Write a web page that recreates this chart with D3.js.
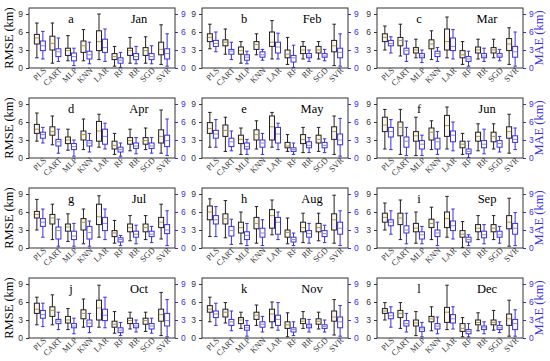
<!DOCTYPE html>
<html>
<head>
<meta charset="utf-8">
<script src="https://cdn.jsdelivr.net/npm/d3@7"></script>
<style>
  body { margin: 0; background: #fff; }
  svg { display: block; }
</style>
</head>
<body>
<svg id="chart"></svg>
<script>
const models = ["PLS", "CART", "MLP", "KNN", "LAR", "RF", "RR", "SGD", "SVR"];
const months = ["Jan", "Feb", "Mar", "Apr", "May", "Jun", "Jul", "Aug", "Sep", "Oct", "Nov", "Dec"];
const letters = ["a", "b", "c", "d", "e", "f", "g", "h", "i", "j", "k", "l"];
const yTicks = [0, 3, 6, 9];

// each box: [low whisker, q1, median, q3, high whisker]
const rmseJan = [[1.7,4.0,5.0,5.6,7.5],[0.8,3.0,4.1,5.3,7.5],[1.2,2.1,2.9,3.3,5.4],[1.2,2.6,3.7,4.5,6.4],[1.4,2.9,4.4,6.2,9.0],[0.3,1.4,1.9,2.4,3.6],[0.8,2.1,2.9,3.3,5.1],[0.8,2.1,2.9,3.4,5.2],[0.6,2.2,3.1,4.3,7.2]];
const maeJan  = [[1.5,2.9,3.7,4.5,6.1],[1.1,1.9,2.7,3.2,5.0],[0.4,1.2,1.9,2.5,3.3],[0.7,1.5,2.2,2.8,4.3],[1.1,2.6,3.4,4.8,6.5],[0.1,0.8,1.3,1.7,2.6],[0.7,1.4,1.9,2.4,3.6],[0.7,1.4,1.9,2.4,3.7],[0.3,1.5,2.4,3.2,5.7]];
const rmseFeb = [[3.2,4.4,5.1,5.7,7.3],[2.3,3.7,4.3,4.7,6.5],[0.8,2.3,2.9,3.5,4.4],[2.2,3.1,3.9,4.4,5.7],[1.5,3.6,4.3,6.0,7.9],[0.6,1.7,2.3,3.0,5.1],[1.5,2.4,3.0,3.6,4.4],[1.5,2.5,3.0,3.6,4.4],[0.4,2.7,3.7,4.6,7.3]];
const maeFeb  = [[2.7,3.6,4.1,4.6,6.0],[1.4,2.3,2.8,3.1,4.3],[0.7,1.3,1.8,2.2,2.8],[1.3,1.8,2.2,2.7,3.1],[1.5,2.5,3.5,4.3,5.8],[0.1,1.0,1.7,2.1,3.8],[1.1,1.7,2.0,2.4,3.0],[1.2,1.8,2.0,2.4,3.1],[0.3,1.7,2.6,3.3,5.7]];
const rmseMar = [[3.0,4.4,5.1,5.7,7.0],[2.0,3.7,4.6,5.1,7.3],[1.7,2.5,3.0,3.4,4.8],[1.4,3.2,4.0,4.7,6.2],[1.7,3.0,4.4,6.5,8.5],[0.6,1.7,2.2,2.9,4.4],[1.5,2.5,3.0,3.5,4.8],[1.7,2.5,3.0,3.4,4.8],[0.6,2.9,4.0,4.9,6.7]];
const maeMar  = [[2.5,3.7,4.1,4.6,5.2],[1.1,2.3,2.9,3.3,4.5],[0.9,1.7,2.0,2.4,3.0],[1.1,1.9,2.4,2.8,3.4],[1.5,2.9,3.6,5.0,6.4],[0.3,1.1,1.5,1.9,2.8],[1.1,1.7,2.0,2.4,3.3],[1.2,1.8,2.0,2.4,3.1],[0.3,1.8,2.7,3.6,6.0]];
const rmseApr = [[2.8,4.1,4.8,5.6,7.5],[2.2,3.8,4.4,5.2,7.0],[1.3,2.4,3.0,3.5,4.8],[1.4,3.0,3.9,4.5,6.5],[1.8,2.8,4.5,6.1,7.3],[0.6,1.5,2.1,2.8,4.1],[1.2,2.3,2.9,3.4,4.8],[1.4,2.3,2.9,3.4,5.0],[0.8,2.5,3.6,4.7,8.0]];
const maeApr  = [[2.5,3.3,3.9,4.3,5.1],[0.8,2.0,2.7,3.1,4.8],[0.3,1.4,1.9,2.4,3.0],[1.0,2.0,2.5,2.9,4.1],[1.5,2.3,3.6,4.8,5.8],[0.3,1.0,1.4,1.8,2.5],[0.7,1.6,2.0,2.5,3.4],[0.8,1.6,2.0,2.5,3.4],[0.4,1.9,2.9,3.8,6.5]];
const rmseMay = [[1.8,4.1,4.9,5.9,7.6],[1.1,3.6,4.6,5.5,6.8],[0.6,2.4,3.1,3.8,5.0],[1.5,3.0,3.9,4.7,6.2],[1.8,3.0,5.2,7.0,7.6],[1.1,1.7,2.0,2.6,3.9],[0.9,2.4,3.1,3.9,5.1],[1.1,2.5,3.1,3.8,5.1],[0.6,3.1,4.4,5.2,7.0]];
const maeMay  = [[1.8,3.3,4.0,4.6,6.4],[1.2,1.9,2.7,3.3,4.5],[0.6,1.5,1.9,2.5,3.1],[0.6,1.8,2.5,3.0,4.1],[1.4,2.5,4.0,5.1,5.8],[0.6,1.1,1.4,1.7,2.5],[0.9,1.7,2.1,2.7,3.4],[0.9,1.7,2.1,2.6,3.2],[0.3,2.2,3.0,4.0,6.6]];
const rmseJun = [[1.5,4.4,5.5,6.8,8.1],[0.6,3.7,5.1,6.0,8.1],[0.4,2.8,3.7,4.4,6.8],[1.4,3.0,4.3,5.0,6.2],[1.5,3.6,5.4,7.1,8.5],[0.6,1.7,2.3,2.8,4.1],[1.2,2.8,3.6,4.3,5.7],[1.5,2.7,3.6,4.3,5.7],[0.8,3.3,4.4,5.2,7.3]];
const maeJun  = [[1.4,3.5,4.4,5.1,6.4],[0.4,1.8,2.8,3.5,5.1],[0.4,1.5,2.3,2.9,3.8],[0.6,1.5,2.7,3.3,4.4],[1.2,2.7,3.8,4.5,6.0],[0.1,0.7,1.1,1.5,2.8],[0.7,1.7,2.3,2.9,4.8],[1.0,1.8,2.4,2.9,3.6],[1.4,2.6,3.1,3.7,5.0]];
const rmseJul = [[3.0,5.0,5.6,6.1,8.1],[1.4,4.0,5.0,5.6,7.3],[1.1,2.8,3.5,4.0,5.7],[0.7,3.0,4.3,4.9,6.5],[1.8,3.9,5.2,7.3,8.7],[0.8,1.9,2.5,2.9,4.6],[1.2,2.7,3.4,4.0,5.4],[1.4,2.7,3.4,4.0,5.4],[1.5,3.4,4.3,5.1,7.3]];
const maeJul  = [[1.8,3.6,4.3,4.9,6.5],[0.3,1.5,2.9,3.5,4.8],[0.3,1.4,2.0,2.8,4.1],[0.3,1.5,2.6,3.6,4.5],[1.4,2.9,4.1,5.1,6.5],[0.4,1.0,1.4,1.7,2.1],[0.7,1.8,2.3,2.8,3.8],[0.9,1.9,2.3,2.8,3.6],[0.4,2.4,3.0,3.9,6.2]];
const rmseAug = [[1.9,4.7,6.0,7.0,8.2],[1.7,4.0,4.9,5.7,7.9],[0.7,2.5,3.4,4.3,6.0],[0.8,3.2,4.1,5.1,6.9],[2.2,3.3,5.4,6.4,8.0],[0.7,1.8,2.6,3.0,5.0],[0.9,2.7,3.4,4.3,5.8],[1.2,2.7,3.4,4.1,5.8],[0.8,3.0,4.7,5.7,8.8]];
const maeAug  = [[1.9,4.0,4.7,5.4,6.9],[0.6,2.0,2.9,3.6,4.8],[0.4,1.4,2.1,2.7,4.1],[0.4,1.8,2.5,3.3,4.7],[1.4,2.3,4.3,5.1,6.0],[0.4,1.0,1.4,1.8,2.5],[0.8,1.8,2.4,2.9,4.1],[0.9,1.9,2.4,2.9,3.8],[0.4,2.3,3.3,4.3,6.2]];
const rmseSep = [[3.0,4.3,5.1,5.8,7.5],[1.4,3.9,5.0,5.8,8.0],[0.8,2.7,3.3,4.1,6.0],[1.4,3.4,4.1,4.8,6.8],[1.8,3.4,4.9,6.0,8.6],[0.1,1.8,2.3,2.9,4.4],[1.4,2.7,3.3,3.9,5.4],[1.4,2.7,3.3,3.9,5.4],[0.3,3.2,4.3,5.4,8.3]];
const maeSep  = [[2.3,3.7,4.3,4.7,6.2],[0.7,2.5,3.0,3.7,5.8],[0.7,1.5,2.2,2.7,3.6],[0.4,1.9,2.5,3.0,4.3],[1.5,2.9,3.7,4.5,6.5],[0.4,1.0,1.4,1.8,2.2],[0.7,1.7,2.2,2.8,3.9],[0.8,1.8,2.2,2.8,3.6],[0.4,2.3,3.3,4.1,5.9]];
const rmseOct = [[2.2,4.1,4.8,5.8,6.8],[2.2,3.6,4.6,5.2,7.2],[1.4,2.5,3.0,3.6,4.9],[1.8,3.2,4.1,4.7,6.5],[1.8,3.0,5.0,6.3,8.8],[0.8,1.8,2.3,2.8,4.4],[1.5,2.4,2.9,3.3,4.3],[1.1,2.3,2.9,3.3,4.3],[0.4,2.8,3.9,4.8,7.6]];
const maeOct  = [[1.9,3.3,3.9,4.6,5.8],[1.4,2.4,2.8,3.1,4.3],[0.7,1.7,2.0,2.4,3.3],[0.9,1.9,2.5,3.0,4.1],[1.7,2.9,3.8,4.8,6.8],[0.4,0.9,1.3,1.7,2.6],[1.0,1.7,2.0,2.4,3.0],[0.8,1.5,2.0,2.4,3.3],[0.2,2.0,2.9,4.1,6.4]];
const rmseNov = [[2.7,4.3,4.8,5.4,6.8],[2.5,3.5,4.3,4.8,5.9],[1.6,2.4,3.0,3.4,4.3],[2.1,3.1,3.8,4.3,5.5],[1.7,2.7,4.0,4.8,6.0],[0.2,1.6,2.2,2.7,4.2],[1.6,2.4,2.8,3.2,4.4],[1.5,2.3,2.8,3.2,4.3],[0.5,2.8,3.5,4.5,6.4]];
const maeNov  = [[2.1,3.4,4.0,4.5,5.8],[1.2,2.1,2.7,3.1,4.5],[0.3,1.3,1.7,2.1,2.9],[1.0,1.8,2.3,2.7,3.6],[1.3,2.1,3.1,3.8,5.9],[0.4,1.0,1.4,1.7,2.7],[1.0,1.7,2.0,2.3,3.1],[1.0,1.6,1.9,2.2,3.0],[0.3,1.7,2.7,3.5,5.4]];
const rmseDec = [[3.0,4.1,4.5,4.9,5.9],[1.6,3.4,4.1,4.6,5.9],[0.4,2.0,2.5,3.0,4.4],[1.2,2.7,3.2,3.6,5.2],[1.4,2.6,4.3,5.1,8.8],[0.2,1.1,1.6,2.4,3.4],[1.2,2.2,2.6,3.0,4.2],[1.3,2.2,2.6,3.0,4.6],[0.3,2.1,3.2,4.0,6.3]];
const maeDec  = [[1.8,3.2,3.7,4.2,5.2],[1.0,2.0,2.4,2.9,4.1],[0.2,1.1,1.5,1.8,2.6],[0.7,1.5,2.0,2.4,3.5],[1.5,2.5,3.2,3.9,5.2],[0.2,0.7,1.1,1.4,2.4],[0.7,1.4,1.7,2.0,2.7],[0.9,1.4,1.7,2.1,2.7],[0.3,1.4,2.4,3.1,4.7]];

const rmseByMonth = [rmseJan, rmseFeb, rmseMar, rmseApr, rmseMay, rmseJun, rmseJul, rmseAug, rmseSep, rmseOct, rmseNov, rmseDec];
const maeByMonth = [maeJan, maeFeb, maeMar, maeApr, maeMay, maeJun, maeJul, maeAug, maeSep, maeOct, maeNov, maeDec];

const width = 550;
const height = 361;
const colX = [29, 202, 377];
const rowY = [8, 98, 188, 278];
const pw = 146;
const ph = 60;
const blue = "#3a2ee6";
const serif = "'Liberation Serif', 'Times New Roman', serif";
const sans = "'Liberation Sans', Arial, sans-serif";

const svg = d3.select("#chart").attr("width", width).attr("height", height);

const x = d3.scalePoint().domain(models).range([0, pw]).padding(0.7);
const y = d3.scaleLinear().domain([0, 10]).range([ph, 0]);
const boxW = 5;
const capW = 3.5;

function drawBoxes(g, data, dx, stroke, fill, medColor) {
    const b = g.selectAll(null)
        .data(data.map((v, i) => ({ model: models[i], v: v })))
        .enter()
        .append("g")
        .attr("transform", (d) => `translate(${x(d.model) + dx}, 0)`);
    // whiskers
    b.append("line")
        .attr("x1", 0).attr("x2", 0)
        .attr("y1", (d) => y(d.v[0])).attr("y2", (d) => y(d.v[4]))
        .attr("stroke", stroke).attr("stroke-width", 1);
    b.append("line")
        .attr("x1", -capW / 2).attr("x2", capW / 2)
        .attr("y1", (d) => y(d.v[0])).attr("y2", (d) => y(d.v[0]))
        .attr("stroke", stroke);
    b.append("line")
        .attr("x1", -capW / 2).attr("x2", capW / 2)
        .attr("y1", (d) => y(d.v[4])).attr("y2", (d) => y(d.v[4]))
        .attr("stroke", stroke);
    b.append("rect")
        .attr("x", -boxW / 2)
        .attr("width", boxW)
        .attr("y", (d) => y(d.v[3]))
        .attr("height", (d) => y(d.v[1]) - y(d.v[3]))
        .attr("fill", fill)
        .attr("stroke", stroke)
        .attr("stroke-width", 1);
    b.append("line")
        .attr("x1", -boxW / 2 + 0.5).attr("x2", boxW / 2 - 0.5)
        .attr("y1", (d) => y(d.v[2])).attr("y2", (d) => y(d.v[2]))
        .attr("stroke", medColor).attr("stroke-width", 1);
}

months.forEach((m, i) => {
    const col = i % 3;
    const row = Math.floor(i / 3);
    const g = svg.append("g").attr("transform", `translate(${colX[col]}, ${rowY[row]})`);

    // left axis (RMSE)
    const axL = g.append("g").call(d3.axisLeft(y).tickValues(yTicks).tickSize(3).tickPadding(3));
    axL.select(".domain").remove();
    axL.selectAll("line").attr("stroke", "#333");
    axL.selectAll("text").attr("fill", "#333").style("font-family", sans).style("font-size", "8.5px");

    // right axis (MAE)
    const axR = g.append("g").attr("transform", `translate(${pw}, 0)`)
        .call(d3.axisRight(y).tickValues(yTicks).tickSize(3).tickPadding(3));
    axR.select(".domain").remove();
    axR.selectAll("line").attr("stroke", blue);
    axR.selectAll("text").attr("fill", blue).style("font-family", sans).style("font-size", "8.5px");

    // bottom labels
    const axB = g.append("g").attr("transform", `translate(0, ${ph})`)
        .call(d3.axisBottom(x).tickSize(0).tickPadding(4));
    axB.select(".domain").remove();
    axB.selectAll("text")
        .style("text-anchor", "end")
        .style("font-family", serif)
        .style("font-size", "8.5px")
        .attr("fill", "#333")
        .attr("dx", "0.3em")
        .attr("dy", "0.3em")
        .attr("transform", "rotate(-45)");

    drawBoxes(g, rmseByMonth[i], -3, "#222", "#f6f4ec", "#b8953a");
    drawBoxes(g, maeByMonth[i], 3, blue, "#ffffff", "#8c8cb4");

    // frame
    g.append("rect")
        .attr("width", pw).attr("height", ph)
        .attr("fill", "none").attr("stroke", "#333").attr("stroke-width", 1);

    g.append("text")
        .attr("x", 42).attr("y", 15)
        .attr("text-anchor", "middle")
        .style("font-family", serif).style("font-size", "12.5px")
        .text(letters[i]);
    g.append("text")
        .attr("x", 110).attr("y", 15)
        .attr("text-anchor", "middle")
        .style("font-family", serif).style("font-size", "12.5px")
        .text(m);

    if (col == 0) {
        svg.append("text")
            .attr("transform", `translate(13, ${rowY[row] + ph / 2}) rotate(-90)`)
            .attr("text-anchor", "middle")
            .style("font-family", serif).style("font-size", "12.5px")
            .text("RMSE (km)");
    }
    if (col == 2) {
        svg.append("text")
            .attr("transform", `translate(543, ${rowY[row] + ph / 2}) rotate(-90)`)
            .attr("text-anchor", "middle")
            .attr("fill", blue)
            .style("font-family", serif).style("font-size", "12.5px")
            .text("MAE (km)");
    }
});
</script>
</body>
</html>
